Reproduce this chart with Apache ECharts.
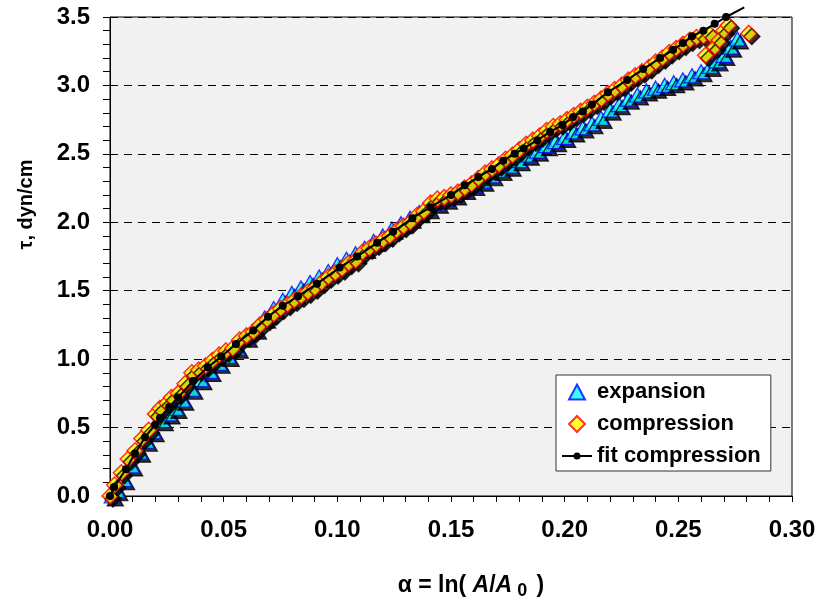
<!DOCTYPE html>
<html>
<head>
<meta charset="utf-8">
<script src="https://cdn.jsdelivr.net/npm/echarts@6/dist/echarts.min.js"></script>
<style>
html,body{margin:0;padding:0;background:#fff;}
#chart{width:821px;height:605px;}
</style>
</head>
<body>
<div id="chart"></div>
<script>
// ---- data ----
const xTicks = [0.00, 0.05, 0.10, 0.15, 0.20, 0.25, 0.30];
const yTicks = [0.0, 0.5, 1.0, 1.5, 2.0, 2.5, 3.0, 3.5];

const expansionAlpha = [0.001,0.003,0.006,0.0095,0.013,0.016,0.019,0.023,0.026,0.029,0.032,0.036,0.040,0.044,0.048,0.052,0.056,0.060,0.064,0.068,0.072,0.076,0.080,0.084,0.088,0.092,0.096,0.100,0.104,0.108,0.112,0.116,0.120,0.124,0.128,0.132,0.136,0.140,0.144,0.148,0.152,0.156,0.160,0.164,0.168,0.172,0.176,0.180,0.184,0.188,0.192,0.196,0.200,0.204,0.208,0.212,0.216,0.220,0.224,0.228,0.232,0.236,0.240,0.244,0.248,0.252,0.256,0.260,0.264,0.267,0.270,0.273,0.276];
const expansionTau   = [0.00,0.04,0.12,0.22,0.32,0.40,0.47,0.55,0.60,0.64,0.70,0.78,0.85,0.91,0.97,1.02,1.08,1.16,1.22,1.30,1.37,1.43,1.48,1.52,1.56,1.60,1.64,1.69,1.73,1.77,1.81,1.86,1.90,1.95,1.99,2.03,2.07,2.10,2.14,2.17,2.20,2.24,2.27,2.30,2.34,2.38,2.41,2.45,2.49,2.52,2.56,2.59,2.62,2.66,2.69,2.72,2.76,2.82,2.86,2.90,2.93,2.96,2.98,3.00,3.02,3.04,3.07,3.10,3.14,3.18,3.22,3.28,3.34];

const compressionAlpha = [0.000,0.002,0.005,0.008,0.011,0.014,0.017,0.020,0.022,0.025,0.027,0.030,0.033,0.036,0.039,0.042,0.045,0.048,0.051,0.054,0.057,0.060,0.063,0.066,0.069,0.072,0.075,0.078,0.081,0.084,0.087,0.090,0.093,0.096,0.099,0.102,0.105,0.108,0.111,0.114,0.117,0.120,0.123,0.126,0.129,0.132,0.135,0.138,0.141,0.144,0.147,0.150,0.153,0.156,0.159,0.162,0.165,0.168,0.171,0.174,0.177,0.180,0.183,0.186,0.189,0.192,0.195,0.198,0.201,0.204,0.207,0.210,0.213,0.216,0.219,0.222,0.225,0.228,0.231,0.234,0.237,0.240,0.243,0.246,0.249,0.252,0.255,0.258,0.261,0.264,0.262,0.266,0.268,0.270,0.272,0.281];
const compressionTau   = [0.00,0.08,0.17,0.27,0.33,0.42,0.48,0.60,0.64,0.68,0.72,0.75,0.82,0.90,0.92,0.95,0.99,1.03,1.06,1.08,1.14,1.17,1.20,1.25,1.29,1.33,1.37,1.40,1.43,1.46,1.49,1.52,1.56,1.60,1.63,1.66,1.70,1.72,1.78,1.81,1.84,1.87,1.90,1.94,1.97,2.00,2.05,2.08,2.14,2.17,2.18,2.20,2.22,2.25,2.28,2.32,2.36,2.39,2.42,2.46,2.49,2.53,2.57,2.60,2.63,2.67,2.70,2.72,2.75,2.78,2.81,2.84,2.87,2.90,2.94,2.97,3.00,3.04,3.07,3.10,3.13,3.17,3.20,3.24,3.27,3.30,3.33,3.35,3.36,3.37,3.22,3.28,3.33,3.40,3.44,3.38];

const fitAlpha = [0.000,0.0018,0.007,0.011,0.0154,0.0198,0.022,0.026,0.030,0.0365,0.043,0.049,0.0554,0.063,0.0695,0.076,0.0827,0.091,0.101,0.1087,0.1175,0.1245,0.133,0.141,0.150,0.156,0.162,0.168,0.173,0.178,0.182,0.188,0.1936,0.199,0.2037,0.208,0.212,0.219,0.2275,0.2345,0.242,0.2477,0.252,0.256,0.261,0.266,0.271,0.279];
const fitTau   = [0.000,0.065,0.196,0.31,0.43,0.52,0.57,0.65,0.72,0.84,0.94,1.02,1.11,1.21,1.31,1.39,1.46,1.55,1.67,1.75,1.85,1.93,2.03,2.11,2.20,2.27,2.33,2.39,2.45,2.50,2.54,2.60,2.66,2.71,2.77,2.81,2.86,2.95,3.04,3.12,3.20,3.26,3.31,3.36,3.40,3.45,3.50,3.57];

const seriesNames = ['expansion', 'compression', 'fit compression'];
const yName = 'τ, dyn/cm';

// ---- build ----
const zip = (a, b) => a.map((v, i) => [v, b[i]]);
const fitData = zip(fitAlpha, fitTau).map((p, i, arr) =>
  i === arr.length - 1 ? { value: p, symbol: 'none' } : p);

const shadow = { shadowColor: '#000', shadowOffsetX: 3, shadowOffsetY: 3, shadowBlur: 0 };
const FONT = 'Liberation Sans, Arial, sans-serif';
const triIcon = 'path://M0,0 M30,16 M15,0.5 L23,15.5 L7,15.5 Z';
const diaIcon = 'path://M0,0 M30,16 M15,0 L23,8 L15,16 L7,8 Z';
const fitIcon = 'path://M0,0 M30,16 M0,7 L30,7 L30,9 L0,9 Z M11.5,8 A3.5,3.5 0 1,1 18.5,8 A3.5,3.5 0 1,1 11.5,8 Z';

const chart = echarts.init(document.getElementById('chart'), null, { renderer: 'canvas' });
chart.setOption({
  animation: false,
  backgroundColor: '#fff',
  grid: {
    left: 110, right: 29, top: 17, bottom: 106,
    show: true, backgroundColor: '#f1f1f1', borderColor: '#000', borderWidth: 1
  },
  legend: {
    left: 556, top: 375, orient: 'vertical',
    backgroundColor: '#fff', borderColor: '#333', borderWidth: 1,
    padding: [6, 10, 4, 5], itemGap: 10, itemWidth: 30, itemHeight: 16,
    textStyle: { fontFamily: FONT, fontWeight: 'bold', fontSize: 22, color: '#000' },
    itemStyle: { shadowColor: 'rgba(0,0,0,0)', shadowOffsetX: 0, shadowOffsetY: 0, shadowBlur: 0 },
    data: [
      { name: seriesNames[0], icon: triIcon },
      { name: seriesNames[1], icon: diaIcon },
      { name: seriesNames[2], icon: fitIcon, itemStyle: { color: '#000', borderWidth: 0 } }
    ]
  },
  xAxis: {
    type: 'value', min: xTicks[0], max: xTicks[xTicks.length - 1], interval: 0.05,
    name: '{a|α = ln( }{i|A}{a|/}{i|A}{s| 0}{a| )}',
    nameLocation: 'middle', nameGap: 76,
    nameTextStyle: {
      padding: [0, 0, 0, 40],
      rich: {
        a: { fontFamily: FONT, fontWeight: 'bold', fontSize: 23, color: '#000' },
        i: { fontFamily: FONT, fontWeight: 'bold', fontStyle: 'italic', fontSize: 23, color: '#000' },
        s: { fontFamily: FONT, fontWeight: 'bold', fontSize: 18, color: '#000', verticalAlign: 'bottom', padding: [10, 3, 0, 0] }
      }
    },
    axisLine: { show: true, lineStyle: { color: '#000', width: 1 } },
    axisTick: { show: true, inside: false, length: 6, lineStyle: { color: '#000' } },
    minorTick: { show: true, splitNumber: 5, length: 6, lineStyle: { color: '#000' } },
    splitLine: { show: false },
    axisLabel: {
      margin: 22, color: '#000', fontFamily: FONT, fontWeight: 'bold', fontSize: 24,
      formatter: v => v.toFixed(2)
    }
  },
  yAxis: {
    type: 'value', min: yTicks[0], max: yTicks[yTicks.length - 1], interval: 0.5,
    name: yName, nameLocation: 'middle', nameGap: 74, nameRotate: 90,
    nameTextStyle: { fontFamily: FONT, fontWeight: 'bold', fontSize: 20, color: '#000', padding: [0, 0, 0, 104] },
    axisLine: { show: true, lineStyle: { color: '#000', width: 1 } },
    axisTick: { show: true, inside: false, length: 7, lineStyle: { color: '#000' } },
    minorTick: { show: true, splitNumber: 5, length: 7, lineStyle: { color: '#000' } },
    splitLine: { show: true, lineStyle: { color: '#000', type: [8, 6], width: 1 } },
    axisLabel: {
      margin: 20, color: '#000', fontFamily: FONT, fontWeight: 'bold', fontSize: 24,
      formatter: v => v.toFixed(1)
    }
  },
  series: [
    {
      name: seriesNames[0], type: 'scatter', symbol: 'triangle', symbolSize: [16, 14],
      data: zip(expansionAlpha, expansionTau), clip: false,
      itemStyle: Object.assign({ color: '#00ffff', borderColor: '#0000ff', borderWidth: 1.3 }, shadow)
    },
    {
      name: seriesNames[1], type: 'scatter', symbol: 'diamond', symbolSize: [16, 16],
      data: zip(compressionAlpha, compressionTau), clip: false,
      itemStyle: Object.assign({ color: '#ffff00', borderColor: '#ff0000', borderWidth: 1.5 }, shadow)
    },
    {
      name: seriesNames[2], type: 'line', symbol: 'circle', symbolSize: 8,
      data: fitData, clip: false, showSymbol: true,
      lineStyle: { color: '#000', width: 2 },
      itemStyle: { color: '#000', borderWidth: 0 }
    }
  ]
});
</script>
</body>
</html>
